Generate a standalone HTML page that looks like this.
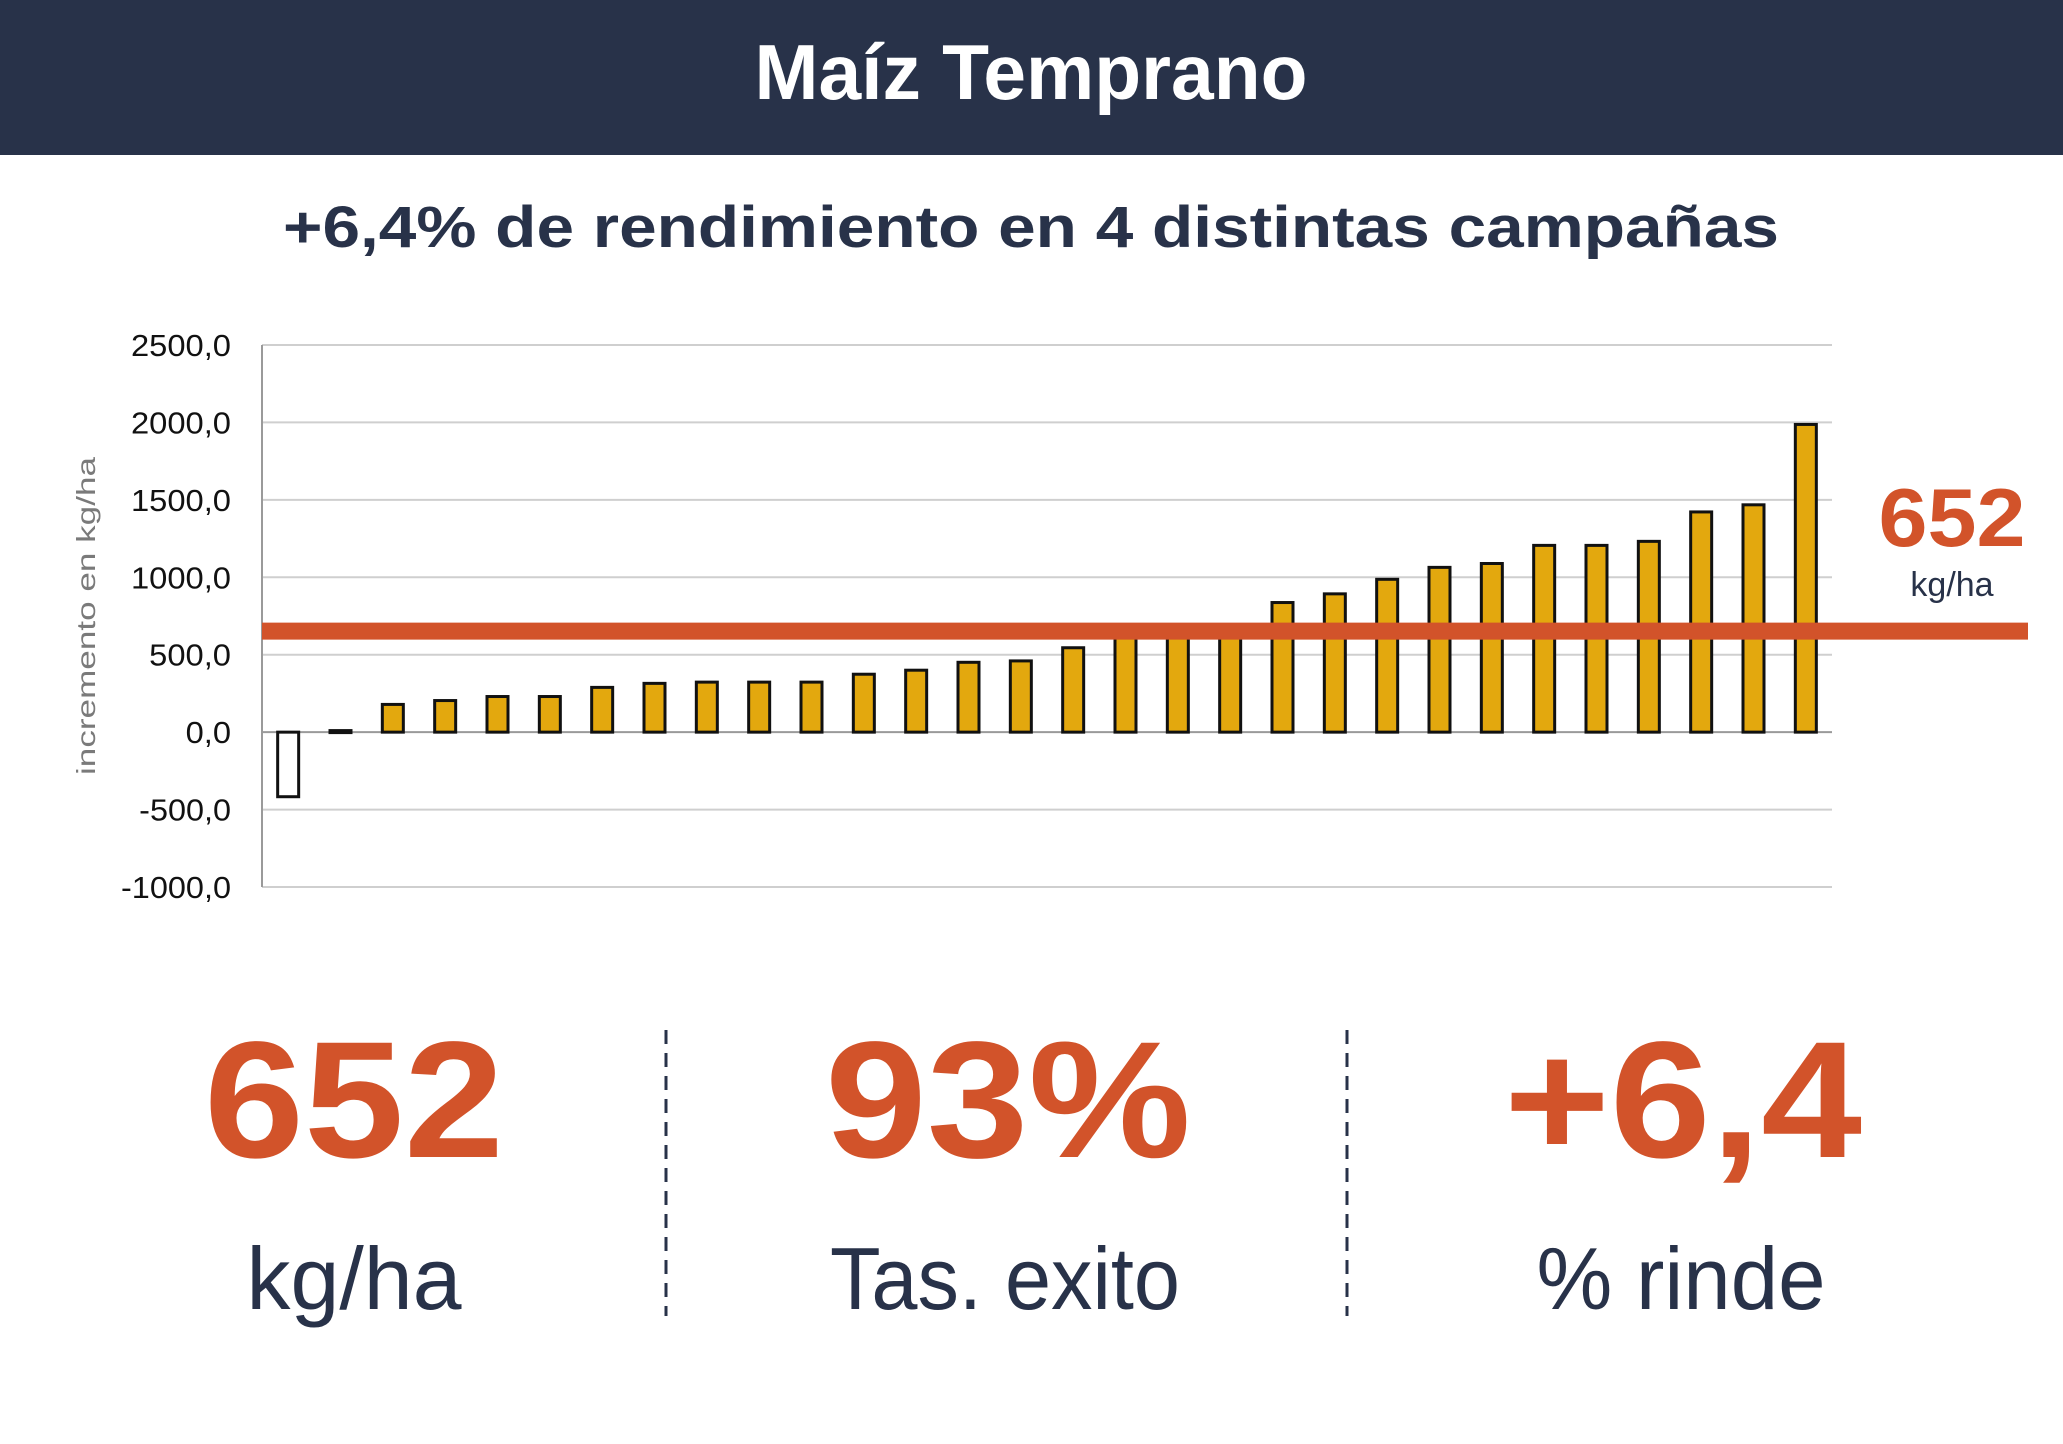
<!DOCTYPE html>
<html><head><meta charset="utf-8"><style>
html,body{margin:0;padding:0;background:#fff}
svg{display:block}
text{font-family:"Liberation Sans",sans-serif}
</style></head><body>
<svg id="chart" width="2063" height="1444" viewBox="0 0 2063 1444" xmlns="http://www.w3.org/2000/svg">
<rect x="0" y="0" width="2063" height="155" fill="#283249"/>
<text x="1031" y="99" text-anchor="middle" font-size="78" font-weight="bold" fill="#fff" textLength="553" lengthAdjust="spacingAndGlyphs">Maíz Temprano</text>
<text x="1031" y="247" text-anchor="middle" font-size="58" font-weight="bold" fill="#283249" textLength="1496" lengthAdjust="spacingAndGlyphs">+6,4% de rendimiento en 4 distintas campañas</text>
<g id="grid"></g>
<g id="ticks"></g>
<line x1="262" y1="345" x2="262" y2="887" stroke="#9a9a9a" stroke-width="2"/>
<text transform="translate(95,616) rotate(-90)" text-anchor="middle" font-size="26" fill="#7a7a7a" textLength="318" lengthAdjust="spacingAndGlyphs">incremento en kg/ha</text>
<g id="bars"></g>
<g id="avg"></g>
<text x="1952" y="546" text-anchor="middle" font-size="83" font-weight="bold" fill="#D2532A" textLength="147" lengthAdjust="spacingAndGlyphs">652</text>
<text x="1952" y="596" text-anchor="middle" font-size="34" fill="#283249">kg/ha</text>
<line x1="666" y1="1030" x2="666" y2="1316" stroke="#283249" stroke-width="3" stroke-dasharray="14,9"/>
<line x1="1347" y1="1030" x2="1347" y2="1316" stroke="#283249" stroke-width="3" stroke-dasharray="14,9"/>
<text x="354" y="1157" text-anchor="middle" font-size="166" font-weight="bold" fill="#D2532A" textLength="300" lengthAdjust="spacingAndGlyphs">652</text>
<text x="1008" y="1157" text-anchor="middle" font-size="166" font-weight="bold" fill="#D2532A" textLength="366" lengthAdjust="spacingAndGlyphs">93%</text>
<text x="1683" y="1157" text-anchor="middle" font-size="166" font-weight="bold" fill="#D2532A" textLength="358" lengthAdjust="spacingAndGlyphs">+6,4</text>
<text x="354" y="1309" text-anchor="middle" font-size="88" fill="#283249" textLength="215" lengthAdjust="spacingAndGlyphs">kg/ha</text>
<text x="1005" y="1309" text-anchor="middle" font-size="88" fill="#283249" textLength="350" lengthAdjust="spacingAndGlyphs">Tas. exito</text>
<text x="1681" y="1309" text-anchor="middle" font-size="88" fill="#283249" textLength="289" lengthAdjust="spacingAndGlyphs">% rinde</text>
</svg>
<script>
const values = [-417, 10, 179, 204, 230, 230, 289, 315, 323, 323, 323, 374, 400, 451, 460, 545, 610, 620, 640, 837, 893, 987, 1064, 1089, 1206, 1206, 1232, 1422, 1468, 1987];
const tickValues = [2500, 2000, 1500, 1000, 500, 0, -500, -1000];
const tickLabels = ["2500,0", "2000,0", "1500,0", "1000,0", "500,0", "0,0", "-500,0", "-1000,0"];
const averageValue = [652];

const NS = "http://www.w3.org/2000/svg";
const X0 = 262, X1 = 1832, Y_TOP = 345, Y_BOT = 887, VMAX = 2500, VMIN = -1000;
function y(v){ return Y_TOP + (VMAX - v) / (VMAX - VMIN) * (Y_BOT - Y_TOP); }
const band = (X1 - X0) / values.length;
function xc(i){ return X0 + band * (i + 0.5); }
function mk(tag, attrs, parent){ const e = document.createElementNS(NS, tag); for (const k in attrs) e.setAttribute(k, attrs[k]); parent.appendChild(e); return e; }

const grid = document.getElementById('grid'), ticks = document.getElementById('ticks');
tickValues.forEach((v, i) => {
  const l = mk('line', {x1: X0, x2: X1, y1: y(v), y2: y(v), stroke: v === 0 ? '#9a9a9a' : '#cfcfcf', 'stroke-width': 2}, grid);
  
  
  const lbl = tickLabels[i];
  const w = lbl.replace(/[,\-]/g, '').length * 18.2 + (lbl.includes('-') ? 10 : 0) + 9;
  const t = mk('text', {x: 231, y: y(v) + 11, 'text-anchor': 'end', 'font-size': 31, fill: '#111', textLength: w, lengthAdjust: 'spacingAndGlyphs'}, ticks);
  t.textContent = lbl;
  
  
});

const bars = document.getElementById('bars');
const BW = 21;
values.forEach((v, i) => {
  const top = Math.min(y(v), y(0)), h = Math.max(Math.abs(y(v) - y(0)), 2);
  const r = mk('rect', {x: xc(i) - BW / 2, y: top, width: BW, height: h, fill: v < 0 ? '#fff' : '#E3A80E', stroke: '#111', 'stroke-width': 3}, bars);
  
  
});

const avg = document.getElementById('avg');
const al = mk('line', {x1: X0, x2: 2028, y1: y(averageValue[0]), y2: y(averageValue[0]), stroke: '#D2532A', 'stroke-width': 17}, avg);


</script>
</body></html>
